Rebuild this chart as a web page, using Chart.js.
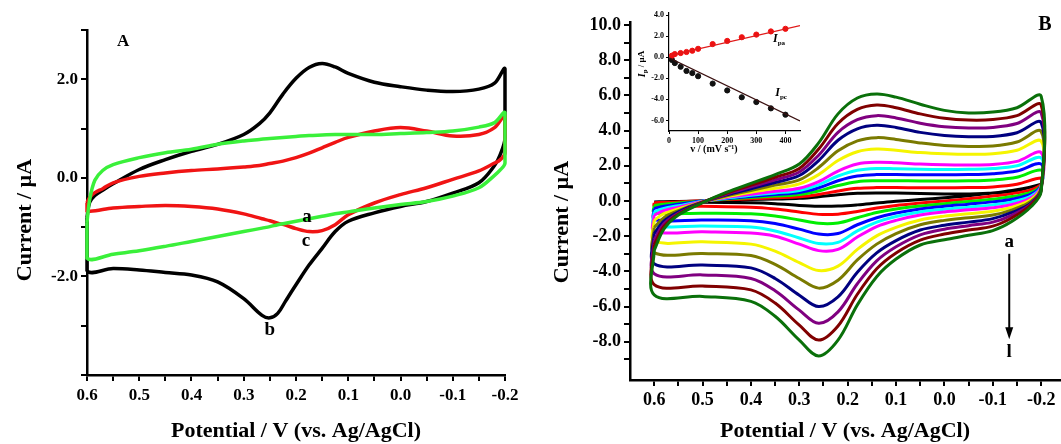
<!DOCTYPE html>
<html>
<head>
<meta charset="utf-8">
<script src="https://cdn.jsdelivr.net/npm/chart.js@4.4.1/dist/chart.umd.min.js"></script>
<style>
  body { margin: 0; background: #fff; }
  #wrap { position: relative; width: 1061px; height: 444px; overflow: hidden; background: #fff; }
  canvas { position: absolute; }
</style>
</head>
<body>
<div id="wrap">
  <canvas id="chartA" width="530" height="444" style="left:0;top:0"></canvas>
  <canvas id="chartB" width="531" height="444" style="left:530px;top:0"></canvas>
  <canvas id="inset" width="180" height="160" style="left:630px;top:0"></canvas>
</div>
<script>
// ---- Panel A: potentials (V) of the forward and return sweeps
const potUpA = [0.6, 0.595, 0.585, 0.57, 0.55, 0.5, 0.45, 0.4, 0.35, 0.3, 0.27, 0.25, 0.225, 0.2, 0.175, 0.15, 0.125, 0.1, 0.05, 0.0, -0.05, -0.1, -0.15, -0.18, -0.2];
const potDownA = [-0.2, -0.19, -0.18, -0.15, -0.1, -0.05, 0.0, 0.05, 0.1, 0.125, 0.15, 0.175, 0.2, 0.22, 0.235, 0.25, 0.265, 0.3, 0.35, 0.4, 0.45, 0.5, 0.55, 0.6];

// currents (µA)
const blackUpA = [-0.8, -0.5, -0.36, -0.25, -0.12, 0.17, 0.37, 0.54, 0.68, 0.88, 1.1, 1.32, 1.7, 2.02, 2.24, 2.32, 2.25, 2.12, 1.94, 1.85, 1.78, 1.75, 1.8, 1.92, 2.21];
const blackDownA = [0.8, 0.45, 0.25, -0.1, -0.31, -0.48, -0.58, -0.71, -0.88, -1.09, -1.43, -1.77, -2.17, -2.5, -2.75, -2.84, -2.79, -2.45, -2.11, -1.97, -1.92, -1.87, -1.84, -1.88];
const redUpA = [-0.5, -0.4, -0.3, -0.22, -0.1, 0.03, 0.1, 0.15, 0.18, 0.22, 0.25, 0.29, 0.34, 0.41, 0.5, 0.61, 0.72, 0.82, 0.95, 1.02, 0.95, 0.85, 0.88, 1.02, 1.26];
const redDownA = [0.5, 0.36, 0.3, 0.14, -0.03, -0.2, -0.34, -0.51, -0.75, -0.95, -1.07, -1.09, -1.03, -0.96, -0.92, -0.87, -0.83, -0.73, -0.63, -0.58, -0.56, -0.58, -0.61, -0.67];
const greenUpA = [-0.9, -0.45, -0.05, 0.15, 0.27, 0.41, 0.51, 0.58, 0.68, 0.75, 0.78, 0.8, 0.82, 0.84, 0.86, 0.87, 0.88, 0.88, 0.88, 0.9, 0.92, 0.95, 1.03, 1.12, 1.32];
const greenDownA = [0.3, 0.15, 0.05, -0.2, -0.37, -0.48, -0.54, -0.61, -0.69, -0.73, -0.78, -0.83, -0.88, -0.92, -0.95, -0.99, -1.02, -1.09, -1.19, -1.29, -1.39, -1.48, -1.55, -1.63];

// ---- Panel B: scan rates a..l
const potUpB = [0.6, 0.58, 0.55, 0.5, 0.45, 0.4, 0.35, 0.3, 0.26, 0.22, 0.18, 0.14, 0.1, 0.05, 0.0, -0.05, -0.1, -0.15, -0.2];
const potDownB = [-0.2, -0.18, -0.14, -0.1, -0.05, 0.0, 0.05, 0.1, 0.14, 0.18, 0.22, 0.26, 0.3, 0.35, 0.4, 0.5, 0.6];

const up_a = [-0.05, -0.04, -0.03, 0.0, 0.05, 0.08, 0.11, 0.15, 0.24, 0.36, 0.44, 0.46, 0.45, 0.42, 0.4, 0.4, 0.45, 0.6, 0.95];
const up_b = [-0.1, -0.08, -0.05, 0.02, 0.08, 0.13, 0.18, 0.24, 0.37, 0.57, 0.72, 0.76, 0.76, 0.75, 0.75, 0.76, 0.8, 0.95, 1.3];
const up_c = [-0.25, -0.18, -0.11, 0.0, 0.11, 0.2, 0.28, 0.37, 0.57, 0.88, 1.1, 1.15, 1.15, 1.14, 1.14, 1.15, 1.2, 1.35, 1.75];
const up_d = [-0.42, -0.3, -0.19, 0.0, 0.14, 0.26, 0.37, 0.48, 0.75, 1.15, 1.42, 1.5, 1.5, 1.49, 1.49, 1.5, 1.55, 1.7, 2.1];
const up_e = [-0.6, -0.42, -0.27, -0.02, 0.17, 0.32, 0.46, 0.6, 0.92, 1.42, 1.75, 1.85, 1.83, 1.8, 1.79, 1.8, 1.84, 2.0, 2.45];
const up_f = [-0.8, -0.55, -0.35, -0.03, 0.2, 0.38, 0.55, 0.72, 1.1, 1.7, 2.1, 2.2, 2.17, 2.1, 2.06, 2.05, 2.08, 2.25, 2.75];
const up_g = [-1.1, -0.72, -0.45, -0.05, 0.25, 0.5, 0.72, 0.97, 1.5, 2.3, 2.8, 2.95, 2.88, 2.75, 2.68, 2.65, 2.68, 2.88, 3.4];
const up_h = [-1.5, -0.95, -0.55, -0.06, 0.3, 0.6, 0.9, 1.2, 1.9, 2.85, 3.42, 3.6, 3.5, 3.3, 3.15, 3.1, 3.12, 3.35, 3.95];
const up_i = [-1.85, -1.15, -0.62, -0.07, 0.35, 0.7, 1.05, 1.45, 2.3, 3.45, 4.1, 4.3, 4.18, 3.9, 3.72, 3.65, 3.67, 3.88, 4.45];
const up_j = [-2.2, -1.3, -0.7, -0.08, 0.4, 0.8, 1.2, 1.65, 2.6, 3.9, 4.62, 4.85, 4.72, 4.42, 4.22, 4.15, 4.18, 4.4, 5.0];
const up_k = [-2.5, -1.45, -0.75, -0.08, 0.45, 0.9, 1.35, 1.85, 2.95, 4.4, 5.2, 5.45, 5.3, 4.95, 4.7, 4.6, 4.63, 4.85, 5.45];
const up_l = [-2.8, -1.6, -0.8, -0.1, 0.5, 1.0, 1.5, 2.1, 3.3, 4.95, 5.85, 6.08, 5.9, 5.5, 5.15, 5.0, 5.05, 5.3, 5.95];

const down_a = [0.95, 0.8, 0.6, 0.45, 0.3, 0.18, 0.08, -0.02, -0.12, -0.22, -0.29, -0.3, -0.25, -0.15, -0.1, -0.07, -0.05];
const down_b = [0.95, 0.65, 0.42, 0.28, 0.13, 0.0, -0.12, -0.25, -0.4, -0.6, -0.75, -0.76, -0.62, -0.45, -0.35, -0.3, -0.27];
const down_c = [0.9, 0.5, 0.25, 0.1, -0.03, -0.15, -0.28, -0.45, -0.65, -0.95, -1.25, -1.27, -1.08, -0.85, -0.73, -0.69, -0.67];
const down_d = [0.9, 0.4, 0.1, -0.05, -0.18, -0.3, -0.45, -0.68, -0.95, -1.35, -1.85, -1.88, -1.6, -1.28, -1.12, -1.08, -1.05];
const down_e = [0.85, 0.3, -0.05, -0.22, -0.35, -0.47, -0.62, -0.88, -1.2, -1.7, -2.35, -2.42, -2.1, -1.7, -1.48, -1.42, -1.38];
const down_f = [0.85, 0.2, -0.2, -0.38, -0.5, -0.62, -0.8, -1.1, -1.45, -2.05, -2.75, -2.82, -2.45, -2.0, -1.82, -1.75, -1.72];
const down_g = [0.8, 0.1, -0.35, -0.58, -0.72, -0.86, -1.08, -1.5, -1.98, -2.75, -3.7, -3.95, -3.5, -2.85, -2.45, -2.32, -2.27];
const down_h = [0.75, 0.0, -0.5, -0.8, -0.95, -1.1, -1.35, -1.85, -2.45, -3.35, -4.5, -4.95, -4.4, -3.6, -3.1, -2.98, -2.93];
const down_i = [0.7, -0.1, -0.65, -1.0, -1.2, -1.38, -1.65, -2.25, -2.95, -4.05, -5.45, -6.0, -5.35, -4.4, -3.8, -3.64, -3.57];
const down_j = [0.65, -0.15, -0.8, -1.2, -1.4, -1.6, -1.92, -2.6, -3.4, -4.7, -6.3, -6.95, -6.2, -5.1, -4.4, -4.2, -4.13];
const down_k = [0.6, -0.2, -0.95, -1.43, -1.65, -1.88, -2.22, -2.95, -3.85, -5.3, -7.1, -7.9, -7.05, -5.8, -5.05, -4.83, -4.75];
const down_l = [0.55, -0.3, -1.15, -1.68, -1.95, -2.2, -2.5, -3.3, -4.3, -5.9, -7.9, -8.8, -7.9, -6.55, -5.7, -5.42, -5.33];

const namesB = ["a", "b", "c", "d", "e", "f", "g", "h", "i", "j", "k", "l"];
const colorsB = ["#000000", "#ff0000", "#00ee00", "#0000ff", "#00ffff", "#ff00ff", "#f5f500", "#7a7a00", "#000080", "#800080", "#800000", "#0a700a"];
const upB = [up_a, up_b, up_c, up_d, up_e, up_f, up_g, up_h, up_i, up_j, up_k, up_l];
const downB = [down_a, down_b, down_c, down_d, down_e, down_f, down_g, down_h, down_i, down_j, down_k, down_l];

// ---- Inset: peak currents vs scan rate
const scanRates = [10, 20, 40, 60, 80, 100, 150, 200, 250, 300, 350, 400];
const ipa = [0.15, 0.3, 0.4, 0.5, 0.62, 0.8, 1.25, 1.55, 1.9, 2.15, 2.45, 2.7];
const ipc = [-0.25, -0.55, -0.9, -1.3, -1.5, -1.8, -2.5, -3.15, -3.8, -4.25, -4.85, -5.45];
const fitRates = [0, 450];
const ipaFit = [0.15, 3.0];
const ipcFit = [-0.05, -6.05];

// ---- tick values
const xTicksCV = [0.6, 0.55, 0.5, 0.45, 0.4, 0.35, 0.3, 0.25, 0.2, 0.15, 0.1, 0.05, 0.0, -0.05, -0.1, -0.15, -0.2];
const yTicksA = [-4, -3, -2, -1, 0, 1, 2, 3];
const yLabelsA = [-2, 0, 2];
const yTicksB = [-9, -8, -7, -6, -5, -4, -3, -2, -1, 0, 1, 2, 3, 4, 5, 6, 7, 8, 9, 10];
const yLabelsB = [-8, -6, -4, -2, 0, 2, 4, 6, 8, 10];
const xTicksInset = [0, 100, 200, 300, 400];
const yTicksInset = [-6, -4, -2, 0, 2, 4];

const serif = "'Liberation Serif', 'Times New Roman', serif";
Chart.defaults.font.family = serif;
Chart.defaults.color = "#000";

function isTenth(v) {
    return Math.abs(v * 10 - Math.round(v * 10)) < 1e-6;
}

function loopPoints(potUp, up, potDown, down) {
    const pts = potUp.map((v, i) => ({ x: v, y: up[i] }));
    potDown.forEach((v, i) => pts.push({ x: v, y: down[i] }));
    pts.push({ x: potUp[0], y: up[0] });
    return pts;
}

function pairs(xs, ys) {
    return xs.map((v, i) => ({ x: v, y: ys[i] }));
}

// text and arrow layer; positions in data units unless px is set
// an item is either plain text or a list of parts (text, font, dy) drawn in a row
function textLayer(items, arrows) {
    return {
        id: "textLayer",
        afterDraw(chart) {
            const { ctx, scales } = chart;
            ctx.save();
            ctx.fillStyle = "#000";
            ctx.strokeStyle = "#000";
            ctx.textBaseline = "middle";
            items.forEach((it) => {
                const px = it.px ? it.x : scales.x.getPixelForValue(it.x);
                const py = it.px ? it.y : scales.y.getPixelForValue(it.y);
                const parts = it.parts || [{ text: it.text, font: it.font, dy: 0 }];
                ctx.save();
                ctx.translate(px, py);
                if (it.rotate) ctx.rotate(-Math.PI / 2);
                let total = 0;
                parts.forEach((p) => { ctx.font = p.font; total += ctx.measureText(p.text).width; });
                let cx = -total / 2;
                ctx.textAlign = "left";
                parts.forEach((p) => {
                    ctx.font = p.font;
                    ctx.fillText(p.text, cx, p.dy || 0);
                    cx += ctx.measureText(p.text).width;
                });
                ctx.restore();
            });
            (arrows || []).forEach((a) => {
                const x = scales.x.getPixelForValue(a.x);
                const y1 = scales.y.getPixelForValue(a.from);
                const y2 = scales.y.getPixelForValue(a.to);
                ctx.lineWidth = 2;
                ctx.beginPath();
                ctx.moveTo(x, y1);
                ctx.lineTo(x, y2 - 8);
                ctx.stroke();
                ctx.beginPath();
                ctx.moveTo(x, y2);
                ctx.lineTo(x - 4, y2 - 12);
                ctx.lineTo(x + 4, y2 - 12);
                ctx.closePath();
                ctx.fill();
            });
            ctx.restore();
        }
    };
}

function cvScales(o) {
    const tickFont = { family: serif, size: o.tickSize, weight: "bold" };
    return {
        x: {
            type: "linear",
            reverse: true,
            min: o.xMin,
            max: o.xMax,
            afterBuildTicks: (s) => { s.ticks = xTicksCV.slice().sort((p, q) => p - q).map((v) => ({ value: v })); },
            afterFit: (s) => { s.height = o.xHeight; },
            ticks: { font: tickFont, padding: 4, maxRotation: 0, autoSkip: false, callback: (v) => (isTenth(v) ? v.toFixed(1) : "") },
            grid: { drawOnChartArea: false, color: "#000", lineWidth: 2, tickLength: 6 },
            border: { color: "#000", width: 2.5 }
        },
        y: {
            type: "linear",
            min: o.yMin,
            max: o.yMax,
            afterBuildTicks: (s) => { s.ticks = o.yTicks.map((v) => ({ value: v })); },
            afterFit: (s) => { s.width = o.yWidth; },
            ticks: { font: tickFont, padding: 3, autoSkip: false, callback: (v) => (o.yLabels.includes(v) ? v.toFixed(1) : "") },
            grid: { drawOnChartArea: false, color: "#000", lineWidth: 2, tickLength: 6 },
            border: { color: "#000", width: 2.5 }
        }
    };
}

const baseOptions = {
    responsive: false,
    animation: false,
    events: [],
    plugins: { legend: { display: false }, tooltip: { enabled: false } }
};

// ---------- Panel A
const titleFont = "bold 22px " + serif;
const letterFont = "bold 19px " + serif;

new Chart(document.getElementById("chartA").getContext("2d"), {
    type: "line",
    data: {
        datasets: [
            { data: loopPoints(potUpA, blackUpA, potDownA, blackDownA), borderColor: "#000000", order: 2 },
            { data: loopPoints(potUpA, redUpA, potDownA, redDownA), borderColor: "#f01414", order: 1 },
            { data: loopPoints(potUpA, greenUpA, potDownA, greenDownA), borderColor: "#3af03a", order: 0 }
        ].map((d) => Object.assign(d, { borderWidth: 3.5, pointRadius: 0, tension: 0.35, fill: false, clip: 8 }))
    },
    options: Object.assign({}, baseOptions, {
        layout: { padding: { left: 0, right: 25, top: 30, bottom: 0 } },
        scales: cvScales({ xMin: -0.2, xMax: 0.6, yMin: -4, yMax: 3, yTicks: yTicksA, yLabels: yLabelsA, xHeight: 69, yWidth: 87, tickSize: 17 })
    }),
    plugins: [textLayer([
        { text: "A", x: 0.531, y: 2.76, font: "bold 17px " + serif },
        { text: "a", x: 0.179, y: -0.79, font: letterFont },
        { text: "c", x: 0.181, y: -1.28, font: letterFont },
        { text: "b", x: 0.25, y: -3.09, font: letterFont },
        { text: "Current / µA", x: 25, y: 220, px: true, rotate: true, font: titleFont },
        { text: "Potential / V (vs. Ag/AgCl)", x: 296, y: 431, px: true, font: titleFont }
    ])]
});

// ---------- Panel B
new Chart(document.getElementById("chartB").getContext("2d"), {
    type: "line",
    data: {
        datasets: namesB.map((name, i) => ({
            label: name,
            data: loopPoints(potUpB, upB[i], potDownB, downB[i]),
            borderColor: colorsB[i],
            borderWidth: 3,
            pointRadius: 0,
            tension: 0.35,
            fill: false,
            clip: 8,
            order: namesB.length - 1 - i
        }))
    },
    options: Object.assign({}, baseOptions, {
        layout: { padding: { left: 0, right: 0, top: 22, bottom: 0 } },
        scales: cvScales({ xMin: -0.241, xMax: 0.65, yMin: -10.17, yMax: 10.17, yTicks: yTicksB, yLabels: yLabelsB, xHeight: 64, yWidth: 100, tickSize: 18 })
    }),
    plugins: [textLayer([
        { text: "B", x: -0.208, y: 10.0, font: "bold 20px " + serif },
        { text: "a", x: -0.134, y: -2.33, font: letterFont },
        { text: "l", x: -0.134, y: -8.58, font: letterFont },
        { text: "Current / µA", x: 32, y: 222, px: true, rotate: true, font: titleFont },
        { text: "Potential / V (vs. Ag/AgCl)", x: 315, y: 431, px: true, font: titleFont }
    ], [{ x: -0.134, from: -3.0, to: -7.85 }])]
});

// ---------- Inset
const insetTick = { family: serif, size: 8, weight: "bold" };
const italicI = "italic bold 12px " + serif;
const subFont = "bold 7px " + serif;
new Chart(document.getElementById("inset").getContext("2d"), {
    type: "line",
    data: {
        datasets: [
            { data: pairs(fitRates, ipaFit), borderColor: "#e01a1a", borderWidth: 1.2, pointRadius: 0 },
            { data: pairs(fitRates, ipcFit), borderColor: "#3a1010", borderWidth: 1.2, pointRadius: 0 },
            { data: pairs(scanRates, ipa), showLine: false, pointRadius: 2.6, pointBackgroundColor: "#ee1111", pointBorderColor: "#ee1111" },
            { data: pairs(scanRates, ipc), showLine: false, pointRadius: 2.6, pointBackgroundColor: "#111111", pointBorderColor: "#111111" }
        ]
    },
    options: Object.assign({}, baseOptions, {
        layout: { padding: { left: 0, right: 10, top: 13, bottom: 0 } },
        scales: {
            x: {
                type: "linear", min: 0, max: 450,
                afterBuildTicks: (s) => { s.ticks = xTicksInset.map((v) => ({ value: v })); },
                afterFit: (s) => { s.height = 29; },
                ticks: { font: insetTick, padding: 2, maxRotation: 0 },
                grid: { drawOnChartArea: false, color: "#000", lineWidth: 1, tickLength: 3 },
                border: { color: "#000", width: 1.2 }
            },
            y: {
                type: "linear", min: -7, max: 4.2,
                afterBuildTicks: (s) => { s.ticks = yTicksInset.map((v) => ({ value: v })); },
                afterFit: (s) => { s.width = 39; },
                ticks: { font: insetTick, padding: 2, callback: (v) => v.toFixed(1) },
                grid: { drawOnChartArea: false, color: "#000", lineWidth: 1, tickLength: 3 },
                border: { color: "#000", width: 1.2 }
            }
        }
    }),
    plugins: [textLayer([
        { x: 378, y: 1.7, parts: [{ text: "I", font: italicI }, { text: "pa", font: subFont, dy: 4 }] },
        { x: 385, y: -3.4, parts: [{ text: "I", font: italicI }, { text: "pc", font: subFont, dy: 4 }] },
        { x: 12, y: 64, px: true, rotate: true, parts: [
            { text: "I", font: "italic bold 10px " + serif },
            { text: "p", font: subFont, dy: 3 },
            { text: " / µA", font: "bold 9px " + serif }
        ] },
        { text: "v / (mV s⁻¹)", x: 84, y: 149, px: true, font: "bold 10px " + serif }
    ])]
});
</script>
</body>
</html>
